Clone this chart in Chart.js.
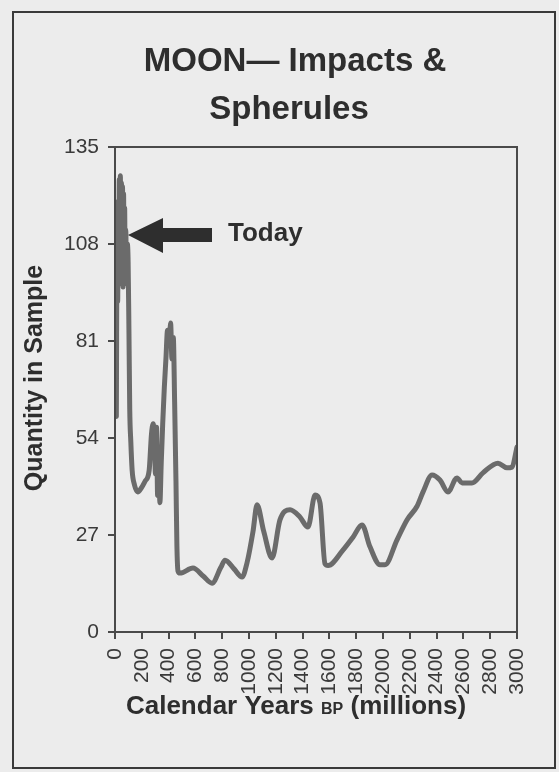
<!DOCTYPE html>
<html>
<head>
<meta charset="utf-8">
<script src="https://cdn.jsdelivr.net/npm/chart.js@4.4.1/dist/chart.umd.min.js"></script>
<style>
body { margin: 0; background: #ececec; }
canvas { display: block; }
</style>
</head>
<body>
<canvas id="myChart" width="559" height="772"></canvas>
<script>
// values (millions of years BP, count)
let years = [10, 16, 20, 24, 28, 32, 36, 40, 44, 48, 52, 56, 60, 64, 68, 72, 76, 80, 86, 92, 98, 104, 110, 118, 128, 145, 170, 195,
  225, 255, 272, 285, 295, 302, 310, 318, 326, 335, 345, 356, 368, 380, 392, 405, 415, 425, 435, 445,
  455, 462, 470, 485, 582, 660, 724, 790, 821, 890, 948, 985, 1030, 1060, 1110, 1172, 1231, 1306, 1380, 1440,
  1493, 1530, 1567, 1590, 1701, 1776, 1843, 1903, 1978, 2015, 2104, 2179, 2254, 2299, 2366, 2425, 2485, 2552, 2590, 2664,
  2746, 2858, 2925, 2963, 3000];
let spherules = [60, 112, 92, 120, 98, 126, 100, 127, 97, 125, 102, 124, 96, 122, 99, 118, 97, 112, 100, 108, 103, 84, 62, 53, 45, 41, 39, 40,
  42, 45, 55, 58, 52, 44, 57, 38, 51, 36, 47, 58, 68, 76, 84, 80, 86, 76, 82, 64,
  42, 24, 17, 16.4, 17.8, 15.5, 13.6, 18, 20, 17.5, 15.3, 19.2, 28, 35.4, 28, 20.6, 31.2, 34, 32, 29.2,
  38.1, 35.9, 19, 18.5, 22.8, 26.4, 29.8, 23.7, 18.7, 18.7, 25.6, 31.2, 35, 39, 43.7, 42.3, 39, 42.9, 41.5, 41.5,
  44.3, 47, 45.7, 45.9, 51.5];

let xTicks = [0, 200, 400, 600, 800, 1000, 1200, 1400, 1600, 1800, 2000, 2200, 2400, 2600, 2800, 3000];
let yTicks = [0, 27, 54, 81, 108, 135];

let titleLines = ['MOON\u2014 Impacts &', 'Spherules'];
let xTitle = ['Calendar Years ', 'BP', ' (millions)'];
let yTitle = 'Quantity in Sample';
let todayLabel = 'Today';
let todayAt = [97, 110.5];

let points = [];
for (let i = 0; i < years.length; i++) {
    points.push({x: years[i], y: spherules[i]});
}

const FONT = '"Liberation Sans", Arial, sans-serif';

const paper = {
    id: 'paper',
    beforeDraw(chart) {
        const ctx = chart.ctx;
        ctx.save();
        ctx.fillStyle = '#ececec';
        ctx.fillRect(0, 0, chart.width, chart.height);
        ctx.strokeStyle = '#3a3a3a';
        ctx.lineWidth = 2;
        ctx.strokeRect(13, 12, 542, 756);

        ctx.fillStyle = '#2e2e2e';
        ctx.font = 'bold 33px ' + FONT;
        ctx.textAlign = 'center';
        ctx.textBaseline = 'middle';
        ctx.fillText(titleLines[0], 295, 62);
        ctx.fillText(titleLines[1], 289, 110);

        // y title, a little above the axis middle as in the scan
        ctx.save();
        ctx.translate(35, 378);
        ctx.rotate(-Math.PI / 2);
        ctx.font = 'bold 25px ' + FONT;
        ctx.fillText(yTitle, 0, 0);
        ctx.restore();
        ctx.restore();
    },
    afterDraw(chart) {
        const ctx = chart.ctx;
        const a = chart.chartArea;
        ctx.save();
        // box round the plot
        ctx.strokeStyle = '#4a4a4a';
        ctx.lineWidth = 2;
        ctx.strokeRect(a.left, a.top, a.right - a.left, a.bottom - a.top);

        // "Today" arrow
        const tx = chart.scales.x.getPixelForValue(todayAt[0]);
        const ty = chart.scales.y.getPixelForValue(todayAt[1]);
        ctx.fillStyle = '#2e2e2e';
        ctx.beginPath();
        ctx.moveTo(tx, ty);
        ctx.lineTo(tx + 35, ty - 17);
        ctx.lineTo(tx + 35, ty - 7);
        ctx.lineTo(tx + 84, ty - 7);
        ctx.lineTo(tx + 84, ty + 7);
        ctx.lineTo(tx + 35, ty + 7);
        ctx.lineTo(tx + 35, ty + 18);
        ctx.closePath();
        ctx.fill();
        ctx.font = 'bold 26px ' + FONT;
        ctx.textAlign = 'left';
        ctx.textBaseline = 'middle';
        ctx.fillText(todayLabel, tx + 100, ty - 1);

        // x title, with small "BP"
        const big = 'bold 26px ' + FONT;
        const small = 'bold 16px ' + FONT;
        ctx.font = big;
        const w0 = ctx.measureText(xTitle[0]).width;
        const w2 = ctx.measureText(xTitle[2]).width;
        ctx.font = small;
        const w1 = ctx.measureText(xTitle[1]).width;
        let x0 = 296 - (w0 + w1 + w2) / 2;
        ctx.textBaseline = 'alphabetic';
        ctx.font = big;
        ctx.fillText(xTitle[0], x0, 714);
        ctx.font = small;
        ctx.fillText(xTitle[1], x0 + w0, 714);
        ctx.font = big;
        ctx.fillText(xTitle[2], x0 + w0 + w1, 714);
        ctx.restore();
    }
};

let myChart = document.getElementById('myChart').getContext('2d');
let moonChart = new Chart(myChart, {
    type: 'line',
    data: {
        datasets: [{
            label: 'Spherules',
            data: points,
            borderColor: '#6b6b6b',
            borderWidth: 5,
            pointRadius: 0,
            cubicInterpolationMode: 'monotone',
            borderJoinStyle: 'round',
            borderCapStyle: 'round'
        }]
    },
    options: {
        responsive: false,
        animation: false,
        devicePixelRatio: 1,
        layout: {padding: {top: 147, right: 42, left: 0, bottom: 0}},
        plugins: {
            legend: {display: false},
            title: {display: false},
            tooltip: {enabled: false}
        },
        scales: {
            x: {
                type: 'linear',
                min: 0,
                max: 3000,
                afterBuildTicks: s => { s.ticks = xTicks.map(v => ({value: v})); },
                afterFit: s => { s.height = 140; },
                grid: {drawOnChartArea: false, tickLength: 7, color: '#4a4a4a', lineWidth: 2},
                border: {display: false},
                ticks: {
                    autoSkip: false,
                    minRotation: 90,
                    maxRotation: 90,
                    padding: 9,
                    color: '#3a3a3a',
                    font: {family: FONT, size: 21},
                    callback: v => String(v)
                }
            },
            y: {
                min: 0,
                max: 135,
                afterBuildTicks: s => { s.ticks = yTicks.map(v => ({value: v})); },
                afterFit: s => { s.width = 115; },
                grid: {drawOnChartArea: false, tickLength: 7, color: '#4a4a4a', lineWidth: 2},
                border: {display: false},
                ticks: {
                    padding: 9,
                    color: '#3a3a3a',
                    font: {family: FONT, size: 21},
                    callback: v => String(v)
                }
            }
        }
    },
    plugins: [paper]
});
</script>
</body>
</html>
